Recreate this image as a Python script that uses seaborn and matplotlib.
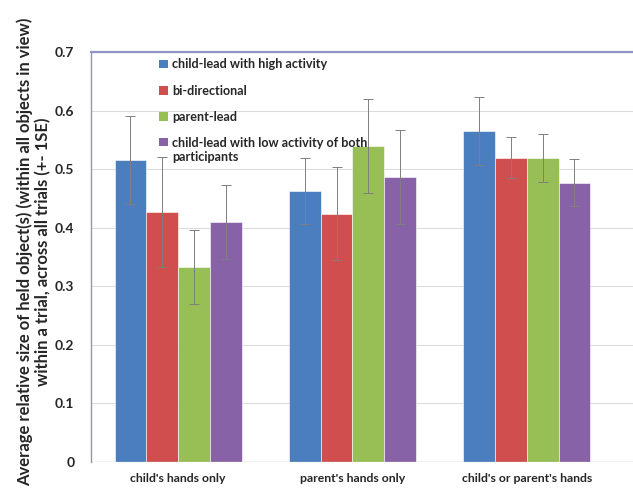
import pandas as pd
import numpy as np
import matplotlib
matplotlib.use('Agg')
import matplotlib.pyplot as plt
import seaborn as sns
from matplotlib.patches import Patch, Rectangle
from matplotlib.legend_handler import HandlerPatch

# categories and series
groups = ["child's hands only", "parent's hands only", "child's or parent's hands"]
series = ["child-lead with high activity", "bi-directional", "parent-lead",
          "child-lead with low activity of both\nparticipants"]
colors = ["#4a7ebf", "#d04e4e", "#97bf55", "#8862a6"]

# mean values per series (one value per group)
high_act = [0.515, 0.463, 0.565]
bidir = [0.427, 0.424, 0.519]
parent_lead = [0.333, 0.540, 0.519]
low_act = [0.410, 0.487, 0.477]

# standard errors
se_high = [0.075, 0.056, 0.058]
se_bidir = [0.094, 0.080, 0.035]
se_parent = [0.063, 0.080, 0.041]
se_low = [0.063, 0.080, 0.040]

values = [high_act, bidir, parent_lead, low_act]
errors = [se_high, se_bidir, se_parent, se_low]

rows = []
for s, vals in zip(series, values):
    for g, v in zip(groups, vals):
        rows.append({"group": g, "series": s, "value": v})
df = pd.DataFrame(rows)

sns.set_style("white")
plt.rcParams['font.family'] = ['Lato', 'DejaVu Sans']

fig = plt.figure(figsize=(6.33, 4.94), dpi=100)
ax = fig.add_axes([0.1438, 0.0648, 0.8562, 0.830])

sns.barplot(data=df, x="group", y="value", hue="series", palette=colors,
            errorbar=None, width=0.73, saturation=1, ax=ax, legend=False,
            edgecolor="white", linewidth=0.4)

# error bars at bar centres
for cont, err in zip(ax.containers, errors):
    xs = [p.get_x() + p.get_width() / 2 for p in cont.patches]
    ys = [p.get_height() for p in cont.patches]
    ax.errorbar(xs, ys, yerr=err, fmt="none", ecolor="#7f7f7f",
                elinewidth=0.7, capsize=3.5, capthick=0.7, zorder=5)

ax.set_ylim(0, 0.7)
ax.set_xlim(-0.5, 2.61)
ax.set_yticks(np.arange(0, 0.71, 0.1))
ax.set_yticklabels(["0", "0.1", "0.2", "0.3", "0.4", "0.5", "0.6", "0.7"],
                   fontweight="bold", fontsize=10)
ax.set_xticks(range(3))
ax.set_xticklabels(groups, fontweight="bold", fontsize=8.8)
ax.tick_params(axis="x", length=0, pad=8)
ax.tick_params(axis="y", length=4, color="#d0d0d0", pad=8)
ax.set_xticks([0.5, 1.5], minor=True)
ax.tick_params(axis="x", which="minor", length=5, color="#d0d0d0")

ax.yaxis.grid(True, color="#dcdcdc", linewidth=0.8)
ax.set_axisbelow(True)

for side in ["right", "bottom"]:
    ax.spines[side].set_visible(False)
ax.spines["left"].set_color("#8f93c8")
ax.spines["top"].set_color("#8f93c8")
ax.spines["left"].set_linewidth(1.0)
ax.spines["top"].set_linewidth(1.6)
ax.axhline(0, color="#c8c8c8", linewidth=1.0, zorder=1)

ax.set_xlabel("")
ax.set_ylabel("Average relative size of held object(s) (within all objects in view)\nwithin a trial, across all trials (+- 1SE)",
              fontweight="bold", fontsize=12, linespacing=1.15)
ax.yaxis.set_label_coords(-0.074, 0.512)


# square marker next to the first line of a two-line label
def top_square(legend, orig_handle, xdescent, ydescent, width, height, fontsize):
    return Rectangle((-xdescent, -ydescent + 0.7 * fontsize), width, height)


handles = [Patch(facecolor=c, edgecolor="none") for c in colors]
ax.legend(handles, series, loc="upper left", bbox_to_anchor=(0.105, 1.012),
          frameon=False, handlelength=0.7, handleheight=0.7,
          handletextpad=0.3, labelspacing=1.13,
          handler_map={handles[3]: HandlerPatch(patch_func=top_square)},
          prop={"weight": "bold", "size": 9.1})

fig.savefig("out.png", dpi=100)
